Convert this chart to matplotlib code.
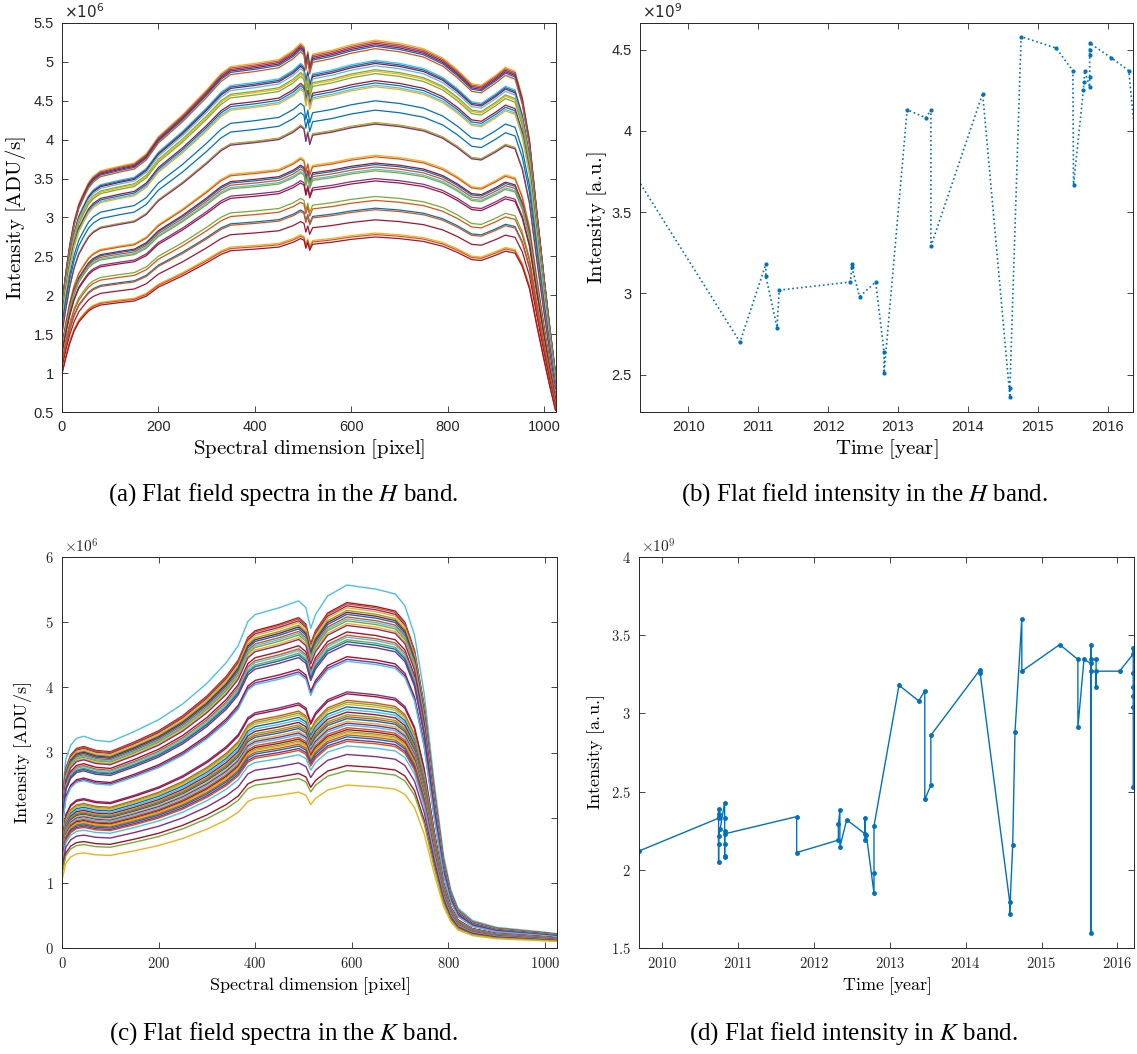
import numpy as np
import matplotlib
matplotlib.use('Agg')
import matplotlib.pyplot as plt
from matplotlib.ticker import FuncFormatter

plt.rcParams['mathtext.fontset'] = 'cm'

# MATLAB default colour order
palette = ['#0072BD', '#D95319', '#EDB120', '#7E2F8E', '#77AC30', '#4DBEEE', '#A2142F']

# (a) H band: reference spectrum (brightest curve) read at a few pixels
a_px = [0, 8, 16, 25, 35, 45, 55, 65, 80, 100, 120, 150, 175, 200, 225, 250, 275, 300,
        330, 350, 400, 450, 480, 495, 502, 506, 510, 514, 520, 560, 600, 650, 700, 750,
        790, 820, 850, 870, 900, 920, 940, 955, 970, 985, 1000, 1012, 1024]
a_ref = [1.90, 2.30, 2.65, 2.95, 3.18, 3.32, 3.45, 3.53, 3.60, 3.63, 3.66, 3.70, 3.82, 4.04,
         4.18, 4.32, 4.48, 4.64, 4.85, 4.94, 4.98, 5.03, 5.15, 5.24, 5.20, 5.00, 5.14, 4.95,
         5.10, 5.15, 5.22, 5.28, 5.24, 5.17, 5.05, 4.90, 4.72, 4.70, 4.83, 4.93, 4.88, 4.55,
         4.00, 3.10, 2.25, 1.60, 1.00]
a_ref_peak = 5.28
# peak level (x1e6) of each flat, and its colour index
a_levels = [5.28, 5.26, 5.24, 5.22, 5.20, 5.17, 5.02, 5.00, 4.98, 4.95, 4.90, 4.88, 4.85,
            4.76, 4.73, 4.70, 4.68, 4.50, 4.38, 4.22, 4.21, 4.20, 3.80, 3.78, 3.70, 3.68,
            3.65, 3.62, 3.60, 3.50, 3.47, 3.27, 3.22, 3.12, 3.10, 2.97, 2.80, 2.78, 2.75]
a_cols = [2, 1, 3, 6, 0, 1, 5, 0, 6, 5, 4, 2, 4, 6, 0, 5, 2, 0, 0, 4, 2, 3, 2, 1, 6, 0,
          1, 5, 4, 3, 6, 4, 1, 0, 1, 6, 2, 1, 6]

# (c) K band
c_px = [0, 8, 18, 30, 45, 70, 100, 150, 200, 250, 300, 340, 365, 385, 400, 450, 490, 505,
        515, 525, 550, 590, 650, 690, 710, 730, 750, 770, 790, 805, 820, 850, 900, 1000, 1024]
c_ref = [2.20, 2.75, 2.95, 3.05, 3.08, 3.02, 3.00, 3.15, 3.32, 3.55, 3.85, 4.15, 4.40, 4.75,
         4.85, 4.95, 5.05, 4.95, 4.65, 4.85, 5.12, 5.28, 5.22, 5.15, 4.98, 4.55, 3.70, 2.45,
         1.35, 0.85, 0.58, 0.40, 0.30, 0.23, 0.21]
c_ref_peak = 5.28
c_levels = [5.57, 5.30, 5.28, 5.25, 5.22, 5.18, 5.15, 5.12, 5.08, 5.05, 5.02, 4.98, 4.95,
            4.85, 4.80, 4.77, 4.73, 4.70, 4.66, 4.47, 4.43, 4.40, 3.93, 3.90, 3.80, 3.77,
            3.74, 3.70, 3.66, 3.62, 3.58, 3.55, 3.52, 3.48, 3.45, 3.42, 3.38, 3.35, 3.32,
            3.30, 3.27, 3.24, 3.20, 3.17, 3.10, 2.97, 2.80, 2.72, 2.50]
c_cols = [5, 6, 1, 3, 2, 4, 6, 0, 1, 5, 4, 2, 3, 6, 1, 5, 4, 0, 3, 6, 3, 5, 3, 6, 1, 4,
          2, 0, 5, 6, 4, 1, 0, 2, 3, 5, 1, 6, 4, 2, 1, 0, 3, 1, 5, 3, 6, 4, 2]

# (b) H band integrated intensity (x1e9)
b_year = [2009.25, 2010.74, 2011.11, 2011.11, 2011.27, 2011.30, 2012.32, 2012.34, 2012.34,
          2012.45, 2012.68, 2012.80, 2012.80, 2013.13, 2013.40, 2013.47, 2013.47, 2014.21,
          2014.60, 2014.60, 2014.76, 2015.26, 2015.50, 2015.51, 2015.65, 2015.66, 2015.67,
          2015.74, 2015.74, 2015.74, 2015.74, 2015.74, 2016.05, 2016.30, 2016.42]
b_val = [3.72, 2.70, 3.18, 3.105, 2.79, 3.02, 3.07, 3.18, 3.16, 2.98, 3.07, 2.64, 2.51,
         4.13, 4.08, 4.13, 3.29, 4.23, 2.36, 2.42, 4.58, 4.51, 4.37, 3.67, 4.25, 4.30,
         4.37, 4.27, 4.33, 4.47, 4.50, 4.54, 4.45, 4.37, 3.83]

# (d) K band integrated intensity (x1e9)
d_year = [2009.69, 2010.74, 2010.74, 2010.74, 2010.74, 2010.74, 2010.74, 2010.74, 2010.76,
          2010.82, 2010.82, 2010.82, 2010.82, 2010.82, 2010.82, 2010.82, 2011.77, 2011.77,
          2012.32, 2012.32, 2012.34, 2012.34, 2012.43, 2012.67, 2012.67, 2012.67, 2012.69,
          2012.79, 2012.79, 2012.79, 2013.12, 2013.38, 2013.46, 2013.46, 2013.54, 2013.54,
          2014.19, 2014.19, 2014.58, 2014.58, 2014.62, 2014.65, 2014.74, 2014.74, 2015.24,
          2015.48, 2015.48, 2015.56, 2015.65, 2015.65, 2015.65, 2015.65, 2015.65, 2015.72,
          2015.72, 2015.72, 2016.03, 2016.21, 2016.21, 2016.21, 2016.21, 2016.21, 2016.21,
          2016.21]
d_val = [2.12, 2.33, 2.39, 2.355, 2.34, 2.05, 2.167, 2.215, 2.26, 2.43, 2.33, 2.25, 2.09,
         2.08, 2.167, 2.23, 2.34, 2.11, 2.19, 2.29, 2.38, 2.145, 2.32, 2.23, 2.33, 2.19,
         2.22, 1.85, 1.98, 2.28, 3.18, 3.08, 3.145, 2.45, 2.54, 2.86, 3.28, 3.26, 1.795,
         1.72, 2.16, 2.88, 3.605, 3.27, 3.44, 3.345, 2.91, 3.345, 3.32, 3.44, 1.596, 3.27,
         3.345, 3.345, 3.17, 3.27, 3.27, 3.38, 3.42, 3.26, 3.17, 3.11, 3.04, 2.53]

W, H = 1137, 1054
fig = plt.figure(figsize=(W / 100, H / 100), dpi=100)


def box(l, t, r, b):
    return [l / W, 1 - b / H, (r - l) / W, (b - t) / H]


ax_a = fig.add_axes(box(62, 23, 556, 412))
ax_b = fig.add_axes(box(640, 23, 1133, 412))
ax_c = fig.add_axes(box(62, 557, 557, 948))
ax_d = fig.add_axes(box(639, 557, 1134, 948))

ink = '#262626'
au_label = r'$\mathrm{Intensity\ [a.\!u.\!]}$'


def style(ax, serif):
    for s in ax.spines.values():
        s.set_color(ink)
        s.set_linewidth(0.7)
    ax.tick_params(direction='in', length=4, width=0.6, color=ink, labelcolor=ink,
                   top=True, right=True, labelsize=10.5, pad=6)
    if serif:
        fmt = FuncFormatter(lambda v, p: r'$%g$' % v)
        ax.xaxis.set_major_formatter(fmt)
        ax.yaxis.set_major_formatter(fmt)
    else:
        fmt = FuncFormatter(lambda v, p: '%g' % v)
        ax.xaxis.set_major_formatter(fmt)
        ax.yaxis.set_major_formatter(fmt)
        for lab in ax.get_xticklabels() + ax.get_yticklabels():
            lab.set_family('Liberation Sans')


def offset(ax, exp, serif):
    ax.text(0.005, 1.004, r'$\times10^{%d}$' % exp, transform=ax.transAxes, ha='left',
            va='bottom', fontsize=11, color=ink,
            math_fontfamily='cm' if serif else 'dejavusans')


# (a)
for lev, ci in zip(a_levels, a_cols):
    ax_a.plot(a_px, np.array(a_ref) * lev / a_ref_peak, color=palette[ci], lw=0.9)
ax_a.set_xlim(0, 1025)
ax_a.set_ylim(0.5, 5.5)
ax_a.set_xticks(range(0, 1001, 200))
ax_a.set_yticks(np.arange(0.5, 5.51, 0.5))
style(ax_a, False)
offset(ax_a, 6, False)
ax_a.set_xlabel(r'$\mathrm{Spectral\ dimension\ [pixel]}$', fontsize=15, labelpad=2)
ax_a.set_ylabel(r'$\mathrm{Intensity\ [ADU/s]}$', fontsize=15, labelpad=4)

# (b)
ax_b.plot(b_year, b_val, ':', color='#0072BD', lw=1.2, marker='.', ms=4)
ax_b.set_xlim(2009.31, 2016.36)
ax_b.set_ylim(2.27, 4.664)
ax_b.set_xticks(range(2010, 2017))
ax_b.set_yticks([2.5, 3, 3.5, 4, 4.5])
style(ax_b, False)
offset(ax_b, 9, False)
ax_b.set_xlabel(r'$\mathrm{Time\ [year]}$', fontsize=15, labelpad=2)
ax_b.set_ylabel(au_label, fontsize=15, labelpad=2)

# (c)
for lev, ci in zip(c_levels, c_cols):
    ax_c.plot(c_px, np.array(c_ref) * lev / c_ref_peak, color=palette[ci], lw=1.0)
ax_c.set_xlim(0, 1025)
ax_c.set_ylim(0, 6)
ax_c.set_xticks(range(0, 1001, 200))
ax_c.set_yticks(range(0, 7))
style(ax_c, True)
offset(ax_c, 6, True)
ax_c.set_xlabel(r'$\mathrm{Spectral\ dimension\ [pixel]}$', fontsize=13, labelpad=3)
ax_c.set_ylabel(r'$\mathrm{Intensity\ [ADU/s]}$', fontsize=13, labelpad=8)

# (d)
ax_d.plot(d_year, d_val, '-', color='#0072BD', lw=1.0, marker='.', ms=5)
ax_d.set_xlim(2009.69, 2016.22)
ax_d.set_ylim(1.5, 4)
ax_d.set_xticks(range(2010, 2017))
ax_d.set_yticks([1.5, 2, 2.5, 3, 3.5, 4])
style(ax_d, True)
offset(ax_d, 9, True)
ax_d.set_xlabel(r'$\mathrm{Time\ [year]}$', fontsize=13, labelpad=3)
ax_d.set_ylabel(au_label, fontsize=13, labelpad=3)

# captions
cap = dict(ha='center', va='center', fontsize=18, family='Liberation Serif',
           math_fontfamily='stix', color='black')
fig.text(283 / W, 1 - 495 / H, '(a) Flat field spectra in the $H$ band.', **cap)
fig.text(864 / W, 1 - 495 / H, '(b) Flat field intensity in the $H$ band.', **cap)
fig.text(283 / W, 1 - 1034 / H, '(c) Flat field spectra in the $K$ band.', **cap)
fig.text(853 / W, 1 - 1034 / H, '(d) Flat field intensity in $K$ band.', **cap)

fig.savefig('out.png', dpi=100)
